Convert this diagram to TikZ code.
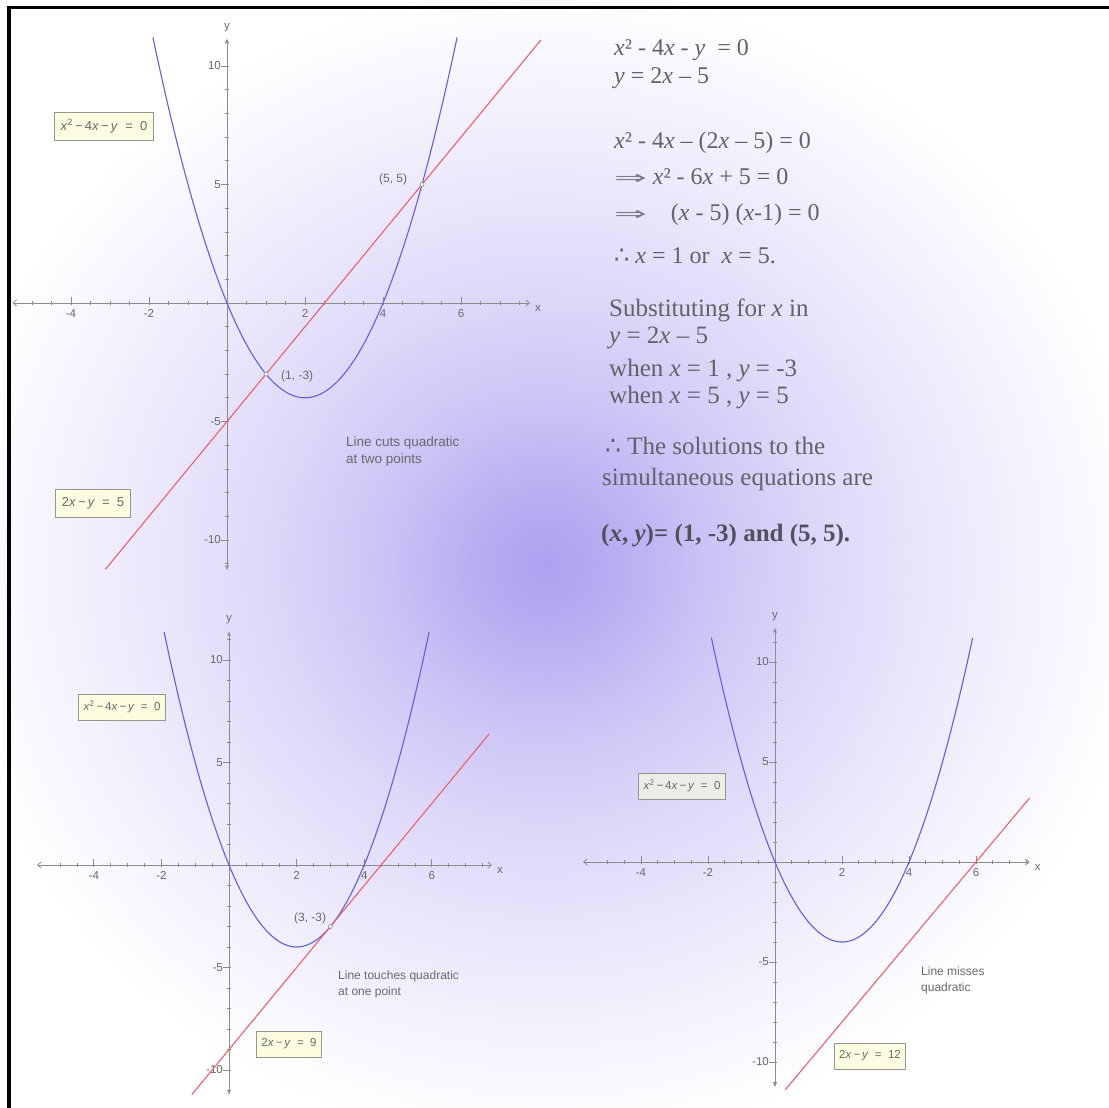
\documentclass[tikz,border=0pt]{standalone}
\usepackage{fontspec}
\usepackage{graphicx}
\setmainfont{Liberation Serif}
\newfontfamily\gfont{Liberation Sans}
\newfontfamily\symfont{DejaVu Sans}
\usetikzlibrary{arrows.meta}
\definecolor{glowA}{RGB}{174,160,240}
\colorlet{glowB}{glowA!86!white}
\colorlet{glowC}{glowA!62!white}
\colorlet{glowD}{glowA!40!white}
\colorlet{glowE}{glowA!20!white}
\colorlet{glowF}{glowA!7!white}
\definecolor{curveblue}{RGB}{98,96,218}
\definecolor{linered}{RGB}{236,96,108}
\definecolor{axisgray}{RGB}{140,140,140}
\definecolor{lblgray}{RGB}{105,105,108}
\definecolor{txtgray}{RGB}{98,98,104}
\definecolor{arrgray}{RGB}{125,125,132}
\definecolor{boldgray}{RGB}{80,80,92}
\definecolor{boxfill}{RGB}{252,252,224}
\definecolor{boxgrey}{RGB}{236,236,232}
\definecolor{boxline}{RGB}{150,150,140}
\pgfdeclareradialshading{glow}{\pgfpoint{0bp}{0bp}}{color(0bp)=(glowA); color(3bp)=(glowB); color(7bp)=(glowC); color(12bp)=(glowD); color(18bp)=(glowE); color(22.5bp)=(glowF); color(25bp)=(white); color(50bp)=(white)}
\tikzset{
  axisln/.style={draw=axisgray, line width=0.8pt},
  ticklbl/.style={font=\gfont\fontsize{11.5}{13}\selectfont, text=lblgray, inner sep=1pt},
  parab/.style={draw=curveblue, line width=1.1pt},
  redln/.style={draw=linered, line width=1.1pt},
  ptmark/.style={draw=axisgray, fill=white, circle, inner sep=0pt, minimum size=4pt, line width=0.6pt},
  ptlbl/.style={font=\gfont\fontsize{12}{14}\selectfont, text=lblgray, inner sep=1pt},
  eqbox/.style={draw=boxline, fill=boxfill, line width=0.7pt, text=lblgray, inner xsep=4pt, minimum height=26pt},
  eqboxbig/.style={eqbox, font=\gfont\fontsize{13}{15}\selectfont, minimum height=28pt, inner xsep=6pt},
  eqboxsm/.style={eqbox, font=\gfont\fontsize{11.5}{13}\selectfont, minimum height=26pt, inner xsep=5pt},
  note/.style={font=\gfont\fontsize{12}{16}\selectfont, text=lblgray, align=left, anchor=west, inner sep=0pt},
  rtxt/.style={anchor=base west, inner sep=0pt, text=txtgray, font=\fontsize{24}{28}\selectfont},
  rtxtb/.style={anchor=base west, inner sep=0pt, text=txtgray, font=\fontsize{25}{29}\selectfont}
}
\newcommand\gaxes[5]{%
  \draw[axisln,{Straight Barb[length=3.5pt,width=6pt]}-{Straight Barb[length=3.5pt,width=6pt]}] (#1,0) -- (#2,0);
  \draw[axisln,{Stealth[length=5pt,width=4pt]}-{Stealth[length=5pt,width=4pt]}] (0,#3) -- (0,#4);
  \foreach \t in {-5,-4.5,...,7.5} \draw[axisln] (\t,0) +(0,-2.2pt) -- +(0,2.2pt);
  \foreach \t in {-4,-2,2,4,6} \draw[axisln] (\t,0) +(0,-2.2pt) -- +(0,6pt);
  \foreach \t in {-11,...,11} \draw[axisln] (0,\t) +(-2.2pt,0) -- +(2.2pt,0);
  \foreach \t in {-10,-5,5,10} \draw[axisln] (0,\t) +(-6pt,0) -- +(2.2pt,0);
  \node[ticklbl,anchor=west,xshift=4pt,yshift=-5pt] (#5xlab) at (#2,0) {x};
  \node[ticklbl,anchor=south,yshift=6pt] (#5ylab) at (0,#4) {y};
  \foreach \v/\n in {-4/m4,-2/m2,2/p2,4/p4,6/p6}
    \node[ticklbl,anchor=north,yshift=-5.5pt] (#5x\n) at (\v,0) {\v};
  \foreach \v/\n in {10/p10,5/p5,-5/m5,-10/m10}
    \node[ticklbl,anchor=east,xshift=-5pt] (#5y\n) at (0,\v) {\v};
}
\newcommand\impl{\textcolor{arrgray}{\scalebox{1.95}[0.95]{\symfont\fontsize{20}{24}\selectfont ⇒}}}
\begin{document}
\begin{tikzpicture}[x=1pt,y=-1pt]
\useasboundingbox (0,0) rectangle (1109,1108);
\fill[white] (0,0) rectangle (1109,1108);
\shade[shading=glow] (545,565) ellipse (600 and 580);

% ---------- graph 1 ----------
\begin{scope}[shift={(227,303)}, x=39pt, y=23.7pt]
  \gaxes{-5.5}{7.77}{-11.27}{11.15}{ga}
  \draw[parab] plot[domain=-1.9:5.9, samples=90, smooth] (\x,{\x*\x-4*\x});
  \draw[redln] plot[domain=-3.12:8.05, samples=2] (\x,{2*\x-5});
  \node[ptmark] (gap55) at (5,5) {};
  \node[ptmark] (gap13) at (1,-3) {};
  \node[ptlbl] (gal55) at (4.26,5.2) {(5, 5)};
  \node[ptlbl] (gal13) at (1.8,-3.1) {(1, -3)};
\end{scope}
\node[eqboxbig] (gabox1) at (104,126) {\textit{x}\textsuperscript{2}\,−\,4\textit{x}\,−\,\textit{y}\ \ =\ \ 0};
\node[eqboxbig] (gabox2) at (93,503) {2\textit{x}\,−\,\textit{y}\ \ =\ \ 5};
\node[note,font=\gfont\fontsize{13.5}{17}\selectfont] (ganote) at (346,452) {Line cuts quadratic\\at two points};

% ---------- graph 2 ----------
\begin{scope}[shift={(229,865)}, x=33.8pt, y=20.5pt]
  \gaxes{-5.68}{7.78}{-11.2}{11.4}{gb}
  \draw[parab] plot[domain=-1.92:5.92, samples=90, smooth] (\x,{\x*\x-4*\x});
  \draw[redln] plot[domain=-1.1:7.7, samples=2] (\x,{2*\x-9});
  \node[ptmark] (gbp33) at (3,-3) {};
  \node[ptlbl] (gbl33) at (2.4,-2.6) {(3, -3)};
\end{scope}
\node[eqboxsm] (gbbox1) at (122,707) {\textit{x}\textsuperscript{2}\,−\,4\textit{x}\,−\,\textit{y}\ \ =\ \ 0};
\node[eqboxsm] (gbbox2) at (289,1044) {2\textit{x}\,−\,\textit{y}\ \ =\ \ 9};
\node[note] (gbnote) at (338,984) {Line touches quadratic\\at one point};

% ---------- graph 3 ----------
\begin{scope}[shift={(775,862)}, x=33.5pt, y=20pt]
  \gaxes{-5.73}{7.6}{-11.25}{11.7}{gc}
  \draw[parab] plot[domain=-1.9:5.9, samples=90, smooth] (\x,{\x*\x-4*\x});
  \draw[redln] plot[domain=0.3:7.6, samples=2] (\x,{2*\x-12});
\end{scope}
\node[eqboxsm,fill=boxgrey] (gcbox1) at (682,786) {\textit{x}\textsuperscript{2}\,−\,4\textit{x}\,−\,\textit{y}\ \ =\ \ 0};
\node[eqboxsm] (gcbox2) at (870,1056) {2\textit{x}\,−\,\textit{y}\ \ =\ \ 12};
\node[note] (gcnote) at (921,980) {Line misses\\quadratic};

% ---------- right-hand working ----------
\node[rtxt] (r1) at (614,56) {\textit{x}² - 4\textit{x} - \textit{y} \ = 0};
\node[rtxt] (r2) at (614,84) {\textit{y} = 2\textit{x} – 5};
\node[rtxt] (r3) at (614,148) {\textit{x}² - 4\textit{x} – (2\textit{x} – 5) = 0};
\node[rtxt] (r4) at (614,184) {\impl\ \textit{x}² - 6\textit{x} + 5 = 0};
\node[rtxt] (r5) at (614,220) {\impl\quad (\textit{x} - 5) (\textit{x}-1) = 0};
\node[rtxt] (r6) at (614,263) {{\symfont ∴} \textit{x} = 1 or \ \textit{x} = 5.};
\node[rtxtb] (r7) at (609,316) {Substituting for \textit{x} in};
\node[rtxtb] (r8) at (609,343) {\textit{y} = 2\textit{x} – 5};
\node[rtxtb] (r9) at (609,376) {when \textit{x} = 1 , \textit{y} = -3};
\node[rtxtb] (r10) at (609,403) {when \textit{x} = 5 , \textit{y} = 5};
\node[rtxtb] (r11) at (605,454) {{\symfont ∴} The solutions to the};
\node[rtxtb] (r12) at (602,485) {simultaneous equations are};
\node[rtxtb,text=boldgray] (r13) at (601,541) {\textbf{(\textit{x}, \textit{y})= (1, -3) and (5, 5).}};

% ---------- frame ----------
\draw[black, line width=3.5pt] (9.2,1108) -- (9.2,7.5) -- (1109,7.5);
\end{tikzpicture}
\end{document}
